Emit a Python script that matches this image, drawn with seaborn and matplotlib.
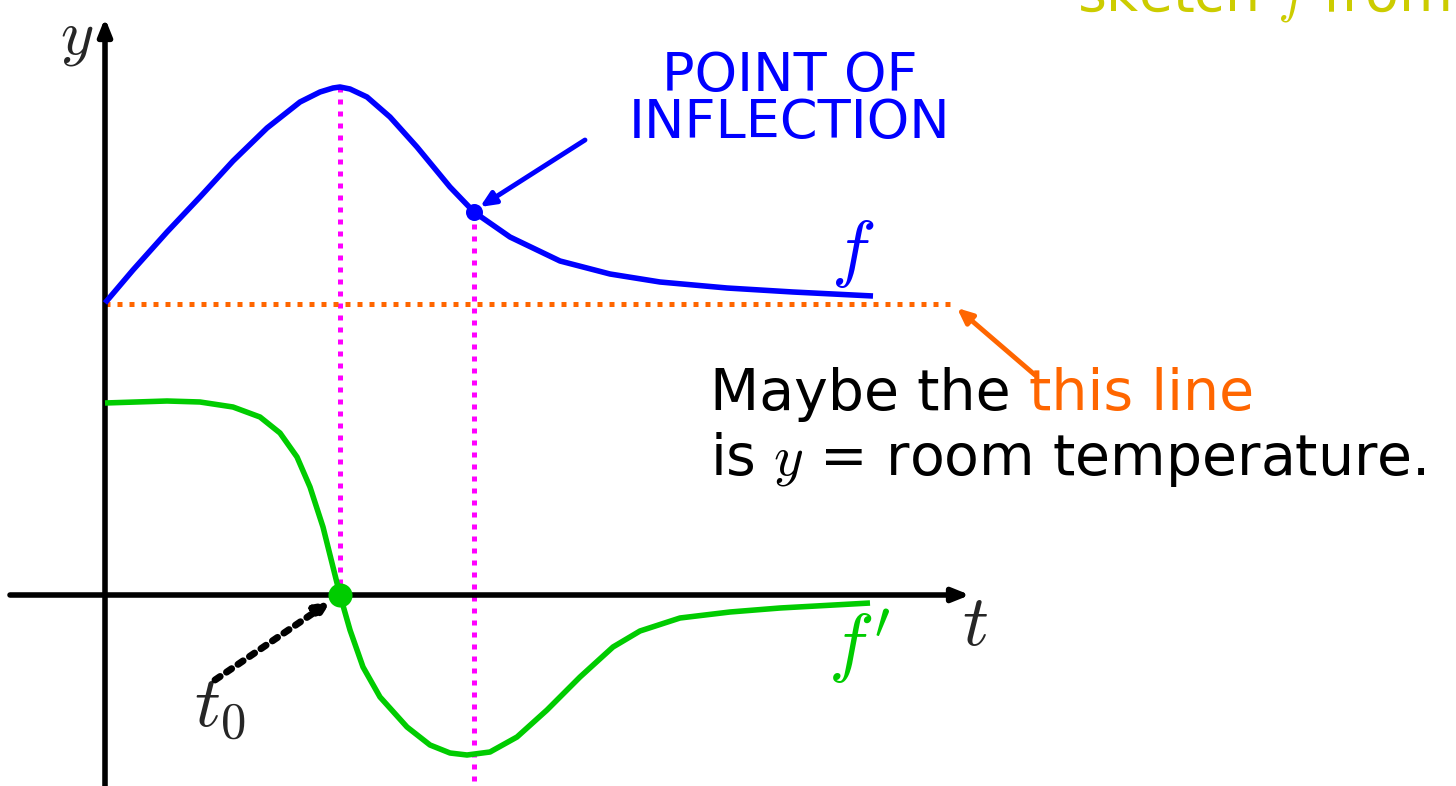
import numpy as np
import pandas as pd
import matplotlib
matplotlib.use("Agg")
import matplotlib.pyplot as plt
import seaborn as sns

# ---- data (t in units, y in units; origin at axes crossing) ----
f_t = [0.0, 0.28, 0.62, 0.95, 1.28, 1.62, 1.95, 2.15, 2.28, 2.35, 2.45, 2.62, 2.85, 3.12, 3.45, 3.69,
       4.05, 4.55, 5.05, 5.55, 6.22, 6.88, 7.68]
f_y = [2.92, 3.25, 3.63, 3.98, 4.34, 4.67, 4.93, 5.03, 5.07, 5.08, 5.06, 4.98, 4.78, 4.48, 4.08, 3.83,
       3.58, 3.34, 3.21, 3.13, 3.07, 3.03, 2.99]

fp_t = [0.0, 0.62, 0.95, 1.28, 1.55, 1.75, 1.92, 2.05, 2.18, 2.28, 2.35, 2.45, 2.58, 2.75, 3.02, 3.25,
        3.45, 3.62, 3.85, 4.12, 4.42, 4.75, 5.08, 5.35, 5.75, 6.25, 6.75, 7.65]
fp_y = [1.92, 1.94, 1.93, 1.88, 1.78, 1.62, 1.38, 1.08, 0.68, 0.28, 0.0, -0.35, -0.72, -1.02, -1.32, -1.50,
        -1.58, -1.60, -1.57, -1.42, -1.15, -0.82, -0.52, -0.36, -0.23, -0.17, -0.13, -0.08]

room_temp = 2.91
room_t = [0.0, 8.50]
t_peak = 2.35
t_inflect = 3.69
y_peak = 5.08
y_inflect = 3.83
t0 = 2.35

sns.set_style("white")
plt.rcParams["mathtext.fontset"] = "cm"
plt.rcParams["font.family"] = ["DejaVu Sans"]

fig = plt.figure(figsize=(14.56, 7.86), dpi=100)
ax = fig.add_axes([0, 0, 1, 1])

BLUE = "#0000ff"
GREEN = "#00cc00"
ORANGE = "#ff6600"
MAGENTA = "#ff00ff"
DOT = (0, (1, 1.4))

# magenta dotted verticals
ax.plot([t_peak, t_peak], [y_peak, 0], color=MAGENTA, lw=3.6, linestyle=DOT, zorder=2)
ax.plot([t_inflect, t_inflect], [y_inflect, -1.90], color=MAGENTA, lw=3.6, linestyle=DOT, zorder=2)

# orange dotted room temperature
ax.plot(room_t, [room_temp, room_temp], color=ORANGE, lw=3.6, linestyle=DOT, zorder=2)

# axes with arrows
ax.annotate("", xy=(8.65, 0), xytext=(-0.95, 0),
            arrowprops=dict(arrowstyle="-|>,head_length=1.0,head_width=0.4", lw=4, color="black",
                            shrinkA=0, shrinkB=0), zorder=3)
ax.annotate("", xy=(0, 5.77), xytext=(0, -1.95),
            arrowprops=dict(arrowstyle="-|>,head_length=1.0,head_width=0.4", lw=4, color="black",
                            shrinkA=0, shrinkB=0), zorder=3)

# curves
df_f = pd.DataFrame({"t": f_t, "y": f_y})
df_fp = pd.DataFrame({"t": fp_t, "y": fp_y})
sns.lineplot(data=df_f, x="t", y="y", ax=ax, color=BLUE, lw=4.0, sort=False, zorder=4,
             solid_joinstyle="round", solid_capstyle="butt")
sns.lineplot(data=df_fp, x="t", y="y", ax=ax, color=GREEN, lw=4.0, sort=False, zorder=4,
             solid_joinstyle="round", solid_capstyle="butt")
ax.axis("off")
ax.set_xlim(-1.05, 13.51)
ax.set_ylim(-1.91, 5.95)

# points
ax.scatter([t_inflect], [y_inflect], s=150, color=BLUE, zorder=5, linewidths=0)
ax.scatter([t0], [0], s=300, color=GREEN, zorder=5, linewidths=0)

# labels
ax.text(-0.28, 5.58, r"$y$", fontsize=46, ha="center", va="center")
ax.text(8.70, -0.31, r"$t$", fontsize=52, ha="center", va="center")
ax.text(7.48, 3.41, r"$f$", fontsize=54, ha="center", va="center", color=BLUE)
ax.text(7.54, -0.51, r"$f'$", fontsize=55, ha="center", va="center", color=GREEN)
ax.text(1.15, -1.12, r"$t_{\mathsf{0}}$", fontsize=52, ha="center", va="center")

# t0 dotted arrow
ax.annotate("", xy=(2.26, -0.06), xytext=(1.10, -0.85),
            arrowprops=dict(arrowstyle="-|>,head_length=0.8,head_width=0.35", lw=5, color="black",
                            linestyle=(0, (0.9, 1.1)), shrinkA=0, shrinkB=0), zorder=4)

# inflection annotation
ax.text(6.85, 5.04, "POINT OF", fontsize=39, color=BLUE, ha="center", va="baseline")
ax.text(6.85, 4.57, "INFLECTION", fontsize=39, color=BLUE, ha="center", va="baseline")
ax.annotate("", xy=(3.75, 3.88), xytext=(4.80, 4.55),
            arrowprops=dict(arrowstyle="-|>,head_length=0.9,head_width=0.4", lw=3.5, color=BLUE,
                            shrinkA=0, shrinkB=0), zorder=4)

# room temperature annotation
ax.annotate("", xy=(8.52, 2.87), xytext=(9.30, 2.20),
            arrowprops=dict(arrowstyle="-|>,head_length=0.9,head_width=0.4", lw=3.5, color=ORANGE,
                            shrinkA=0, shrinkB=0), zorder=4)
t1 = ax.text(6.05, 1.85, "Maybe the ", fontsize=41, color="black", ha="left", va="baseline")
fig.canvas.draw()
bb = t1.get_window_extent()
x_end = ax.transData.inverted().transform((bb.x1, bb.y0))[0]
ax.text(x_end, 1.85, "this line", fontsize=41, color=ORANGE, ha="left", va="baseline")
ax.text(6.05, 1.20, r"is $y$ = room temperature.", fontsize=41, color="black", ha="left", va="baseline")

# cut-off header text (cut at top edge as in the reference)
ax.text(9.72, 5.85, r"sketch $f$ from", fontsize=40, color="#cccc00", ha="left", va="baseline")

fig.savefig("out.png", dpi=100)
